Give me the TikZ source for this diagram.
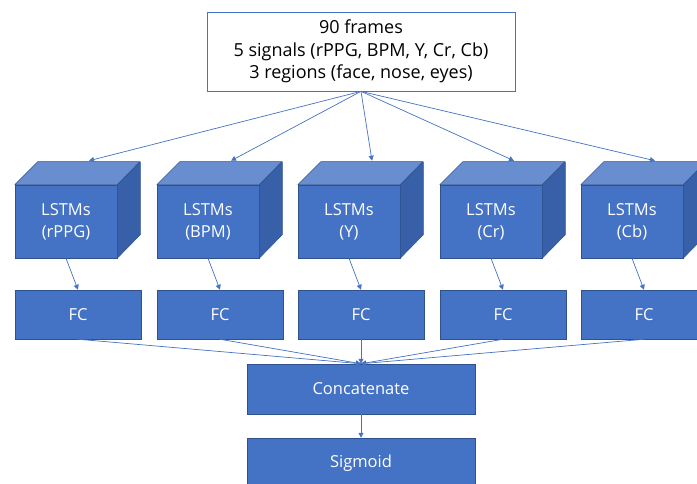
\documentclass[tikz,border=0pt]{standalone}
\usepackage{fontspec}
\setmainfont{Open Sans}
\usetikzlibrary{arrows.meta}
\definecolor{obl}{HTML}{4472C4}
\definecolor{obltop}{HTML}{698ED0}
\definecolor{oblside}{HTML}{3760A8}
\definecolor{obord}{HTML}{2F528F}
\tikzset{
  blk/.style={draw=obord, line width=0.5pt, fill=obl, text=white, inner sep=0pt, font=\fontsize{16.5}{22}\selectfont, align=center},
  lstm/.style={blk, minimum width=102pt, minimum height=73pt},
  fcbox/.style={blk, minimum width=126pt, minimum height=49pt},
  wide/.style={blk, minimum width=228pt, minimum height=50pt},
  topface/.style={draw=obord, line width=0.5pt, fill=obltop, line join=round},
  sideface/.style={draw=obord, line width=0.5pt, fill=oblside, line join=round},
  conn/.style={draw=obl, line width=0.7pt, -{Triangle[width=5pt,length=5pt]}}
}
\begin{document}
\begin{tikzpicture}[x=1pt,y=-1pt]
\useasboundingbox (0,0) rectangle (697,484);
\clip (0,0) rectangle (697,484);
\node[draw=obl, line width=0.7pt, fill=white, minimum width=308pt, minimum height=79pt, inner sep=0pt, align=center, font=\fontsize{18}{22.5}\selectfont] (in) at (361,51.5) {90 frames\\5 signals (rPPG, BPM, Y, Cr, Cb)\\3 regions (face, nose, eyes)};
\foreach \i/\x/\t in {1/15/rPPG,2/157/BPM,3/298/Y,4/440/Cr,5/581/Cb}{
  \node[lstm] (L\i) at (\x+51,221.5) {LSTMs\\(\t)};
  \path[topface] (L\i.north west) -- ++(23,-23) -- ++(102,0) -- (L\i.north east) -- cycle;
  \path[sideface] (L\i.north east) -- ++(23,-23) -- ++(0,73) -- (L\i.south east) -- cycle;
  \coordinate (T\i) at ([shift={(23,-24)}]L\i.north);
  \node[fcbox] (F\i) at (\x+63,314.5) {FC};
}
\node[wide] (cat) at (361,389) {Concatenate};
\node[wide] (sig) at (361,463) {Sigmoid};
\foreach \i in {1,...,5}{
  \path[conn] (in.south) -- (T\i);
  \path[conn] (L\i.south) -- (F\i.north);
  \path[conn] (F\i.south) -- (cat.north);
}
\path[conn] (cat.south) -- (sig.north);
\end{tikzpicture}
\end{document}
